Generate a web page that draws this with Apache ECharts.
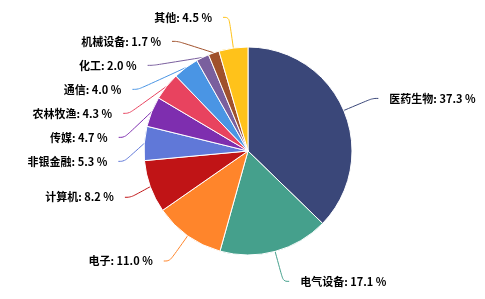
<!DOCTYPE html>
<html><head><meta charset="utf-8">
<script src="https://cdn.jsdelivr.net/npm/echarts@6/dist/echarts.min.js"></script>
<style>html,body{margin:0;padding:0;background:#fff}#c{width:485px;height:299px}</style>
</head><body><div id="c"></div>
<script>
const categories = ['医药生物','电气设备','电子','计算机','非银金融','传媒','农林牧渔','通信','化工','机械设备','其他'];
const values = [37.3,17.1,11.0,8.2,5.3,4.7,4.3,4.0,2.0,1.7,4.5];
const colors = ['#3a4779','#45a08c','#ff852b','#c01416','#6078d8','#7e2eaf','#e8435f','#4a95e4','#7a5f9e','#a0512c','#ffc21a'];
const chart = echarts.init(document.getElementById('c'));
chart.setOption({
  animation:false,
  color: colors,
  series:[{
    type:'pie',
    center:[248,151],
    radius:[0,104],
    startAngle:90,
    itemStyle:{borderColor:'#fff',borderWidth:1},
    label:{formatter:p=>p.name+': '+p.value.toFixed(1)+' %',fontFamily:'Noto Sans CJK SC',fontWeight:'bold',fontSize:11,color:'#000',lineHeight:17,padding:[5,0,0,0],distanceToLabelLine:11,overflow:'none'},
    labelLine:{show:true,smooth:0.4,length:31,length2:6,lineStyle:{width:1}},
    data: categories.map((n,i)=>({name:n,value:values[i]}))
  }]
});
</script></body></html>
